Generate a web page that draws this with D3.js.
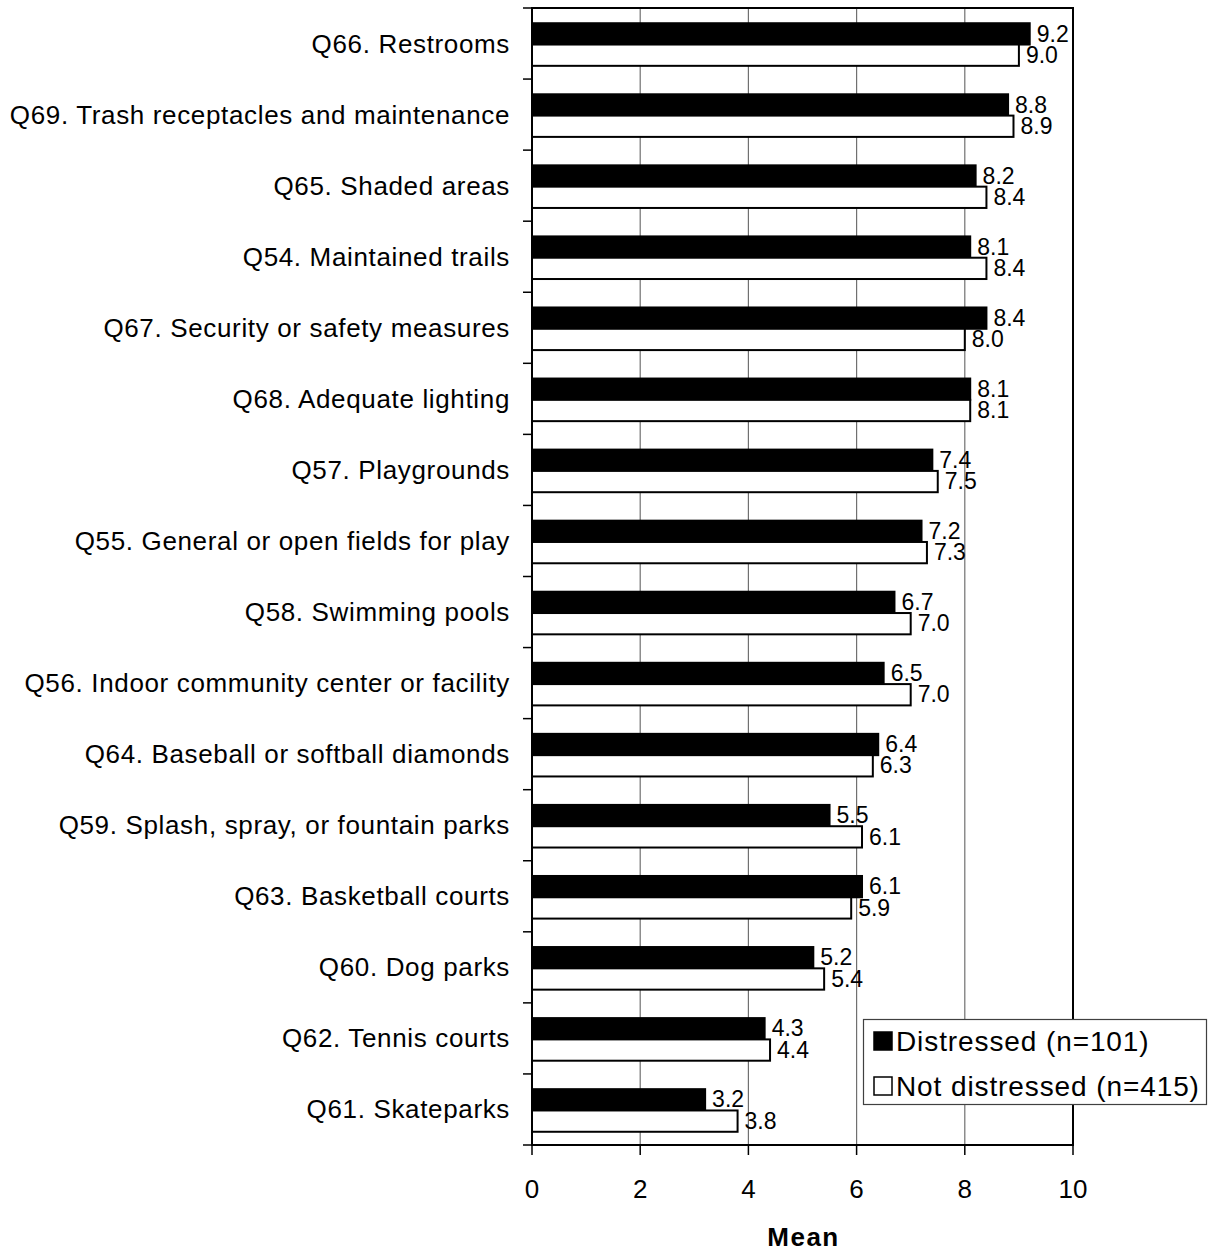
<!DOCTYPE html>
<html>
<head>
<meta charset="utf-8">
<script src="https://cdn.jsdelivr.net/npm/d3@7"></script>
<style>
  html, body { margin: 0; padding: 0; background: #fff; }
  svg { display: block; font-family: "Liberation Sans", Arial, sans-serif; }
</style>
</head>
<body>
<svg id="chart" width="1211" height="1251"></svg>
<script>
const categories = [
  "Q66. Restrooms",
  "Q69. Trash receptacles and maintenance",
  "Q65. Shaded areas",
  "Q54. Maintained trails",
  "Q67. Security or safety measures",
  "Q68. Adequate lighting",
  "Q57. Playgrounds",
  "Q55. General or open fields for play",
  "Q58. Swimming pools",
  "Q56. Indoor community center or facility",
  "Q64. Baseball or softball diamonds",
  "Q59. Splash, spray, or fountain parks",
  "Q63. Basketball courts",
  "Q60. Dog parks",
  "Q62. Tennis courts",
  "Q61. Skateparks"
];
const distressed    = [9.2, 8.8, 8.2, 8.1, 8.4, 8.1, 7.4, 7.2, 6.7, 6.5, 6.4, 5.5, 6.1, 5.2, 4.3, 3.2];
const notDistressed = [9.0, 8.9, 8.4, 8.4, 8.0, 8.1, 7.5, 7.3, 7.0, 7.0, 6.3, 6.1, 5.9, 5.4, 4.4, 3.8];
const seriesNames = ["Distressed (n=101)", "Not distressed (n=415)"];
const xTicks = [0, 2, 4, 6, 8, 10];
const xTitle = "Mean";

const svg = d3.select("#chart");
const L = 532, R = 1073, T = 8, B = 1145;

const x = d3.scaleLinear().domain([0, 10]).range([L, R]);
const y = d3.scaleBand().domain(categories).range([T, B]).padding(0);
const sub = d3.scaleBand().domain(["d", "n"]).range([1, y.bandwidth() + 1]).paddingOuter(0.668).paddingInner(0);

// gridlines
svg.append("g").selectAll("line").data(xTicks.filter(v => v > 0 && v < 10)).join("line")
  .attr("x1", d => x(d)).attr("x2", d => x(d))
  .attr("y1", T).attr("y2", B)
  .attr("stroke", "#707070").attr("stroke-width", 1.2);

// bars
const rows = categories.map((c, i) => ({ c, d: distressed[i], n: notDistressed[i] }));
const g = svg.append("g");
rows.forEach(r => {
  [["d", r.d, "#000"], ["n", r.n, "#fff"]].forEach(([k, v, fill]) => {
    const y0 = y(r.c) + sub(k);
    const h = sub.bandwidth();
    g.append("rect")
      .attr("x", x(0)).attr("y", y0)
      .attr("width", x(v) - x(0)).attr("height", h)
      .attr("fill", fill).attr("stroke", "#000").attr("stroke-width", 2);
    g.append("text")
      .attr("x", x(v) + 7).attr("y", y0 + h - 3)
      .attr("font-size", 23).attr("fill", "#000")
      .text(v.toFixed(1));
  });
});

// frame
svg.append("rect").attr("x", L).attr("y", T).attr("width", R - L).attr("height", B - T)
  .attr("fill", "none").attr("stroke", "#000").attr("stroke-width", 2);

// y axis ticks at band boundaries
const yb = categories.map(c => y(c)).concat([B]);
svg.append("g").selectAll("line").data(yb).join("line")
  .attr("x1", L - 9).attr("x2", L).attr("y1", d => d).attr("y2", d => d)
  .attr("stroke", "#000").attr("stroke-width", 1.5);

// category labels
svg.append("g").selectAll("text").data(categories).join("text")
  .attr("x", 510).attr("y", d => y(d) + y.bandwidth() / 2 + 9)
  .attr("text-anchor", "end").attr("font-size", 26).attr("letter-spacing", 0.65).attr("fill", "#000")
  .text(d => d);

// x axis ticks & labels
svg.append("g").selectAll("line").data(xTicks).join("line")
  .attr("x1", d => x(d)).attr("x2", d => x(d)).attr("y1", B).attr("y2", B + 10)
  .attr("stroke", "#000").attr("stroke-width", 1.5);
svg.append("g").selectAll("text").data(xTicks).join("text")
  .attr("x", d => x(d)).attr("y", 1198)
  .attr("text-anchor", "middle").attr("font-size", 26).attr("fill", "#000")
  .text(d => d);

svg.append("text").attr("x", (L + R) / 2 + 1).attr("y", 1246)
  .attr("text-anchor", "middle").attr("font-size", 26).attr("letter-spacing", 1.5).attr("font-weight", "bold")
  .text(xTitle);

// legend
const lg = svg.append("g");
lg.append("rect").attr("x", 863.5).attr("y", 1019.5).attr("width", 343).attr("height", 85)
  .attr("fill", "#fff").attr("stroke", "#404040").attr("stroke-width", 1.2);
seriesNames.forEach((s, i) => {
  const yy = 1032 + i * 45;
  lg.append("rect").attr("x", 874).attr("y", yy).attr("width", 18).attr("height", 18)
    .attr("fill", i === 0 ? "#000" : "#fff").attr("stroke", "#000").attr("stroke-width", 1.5);
  lg.append("text").attr("x", 896).attr("y", yy + 19)
    .attr("font-size", 28).attr("letter-spacing", 0.9).attr("fill", "#000").text(s);
});
</script>
</body>
</html>
